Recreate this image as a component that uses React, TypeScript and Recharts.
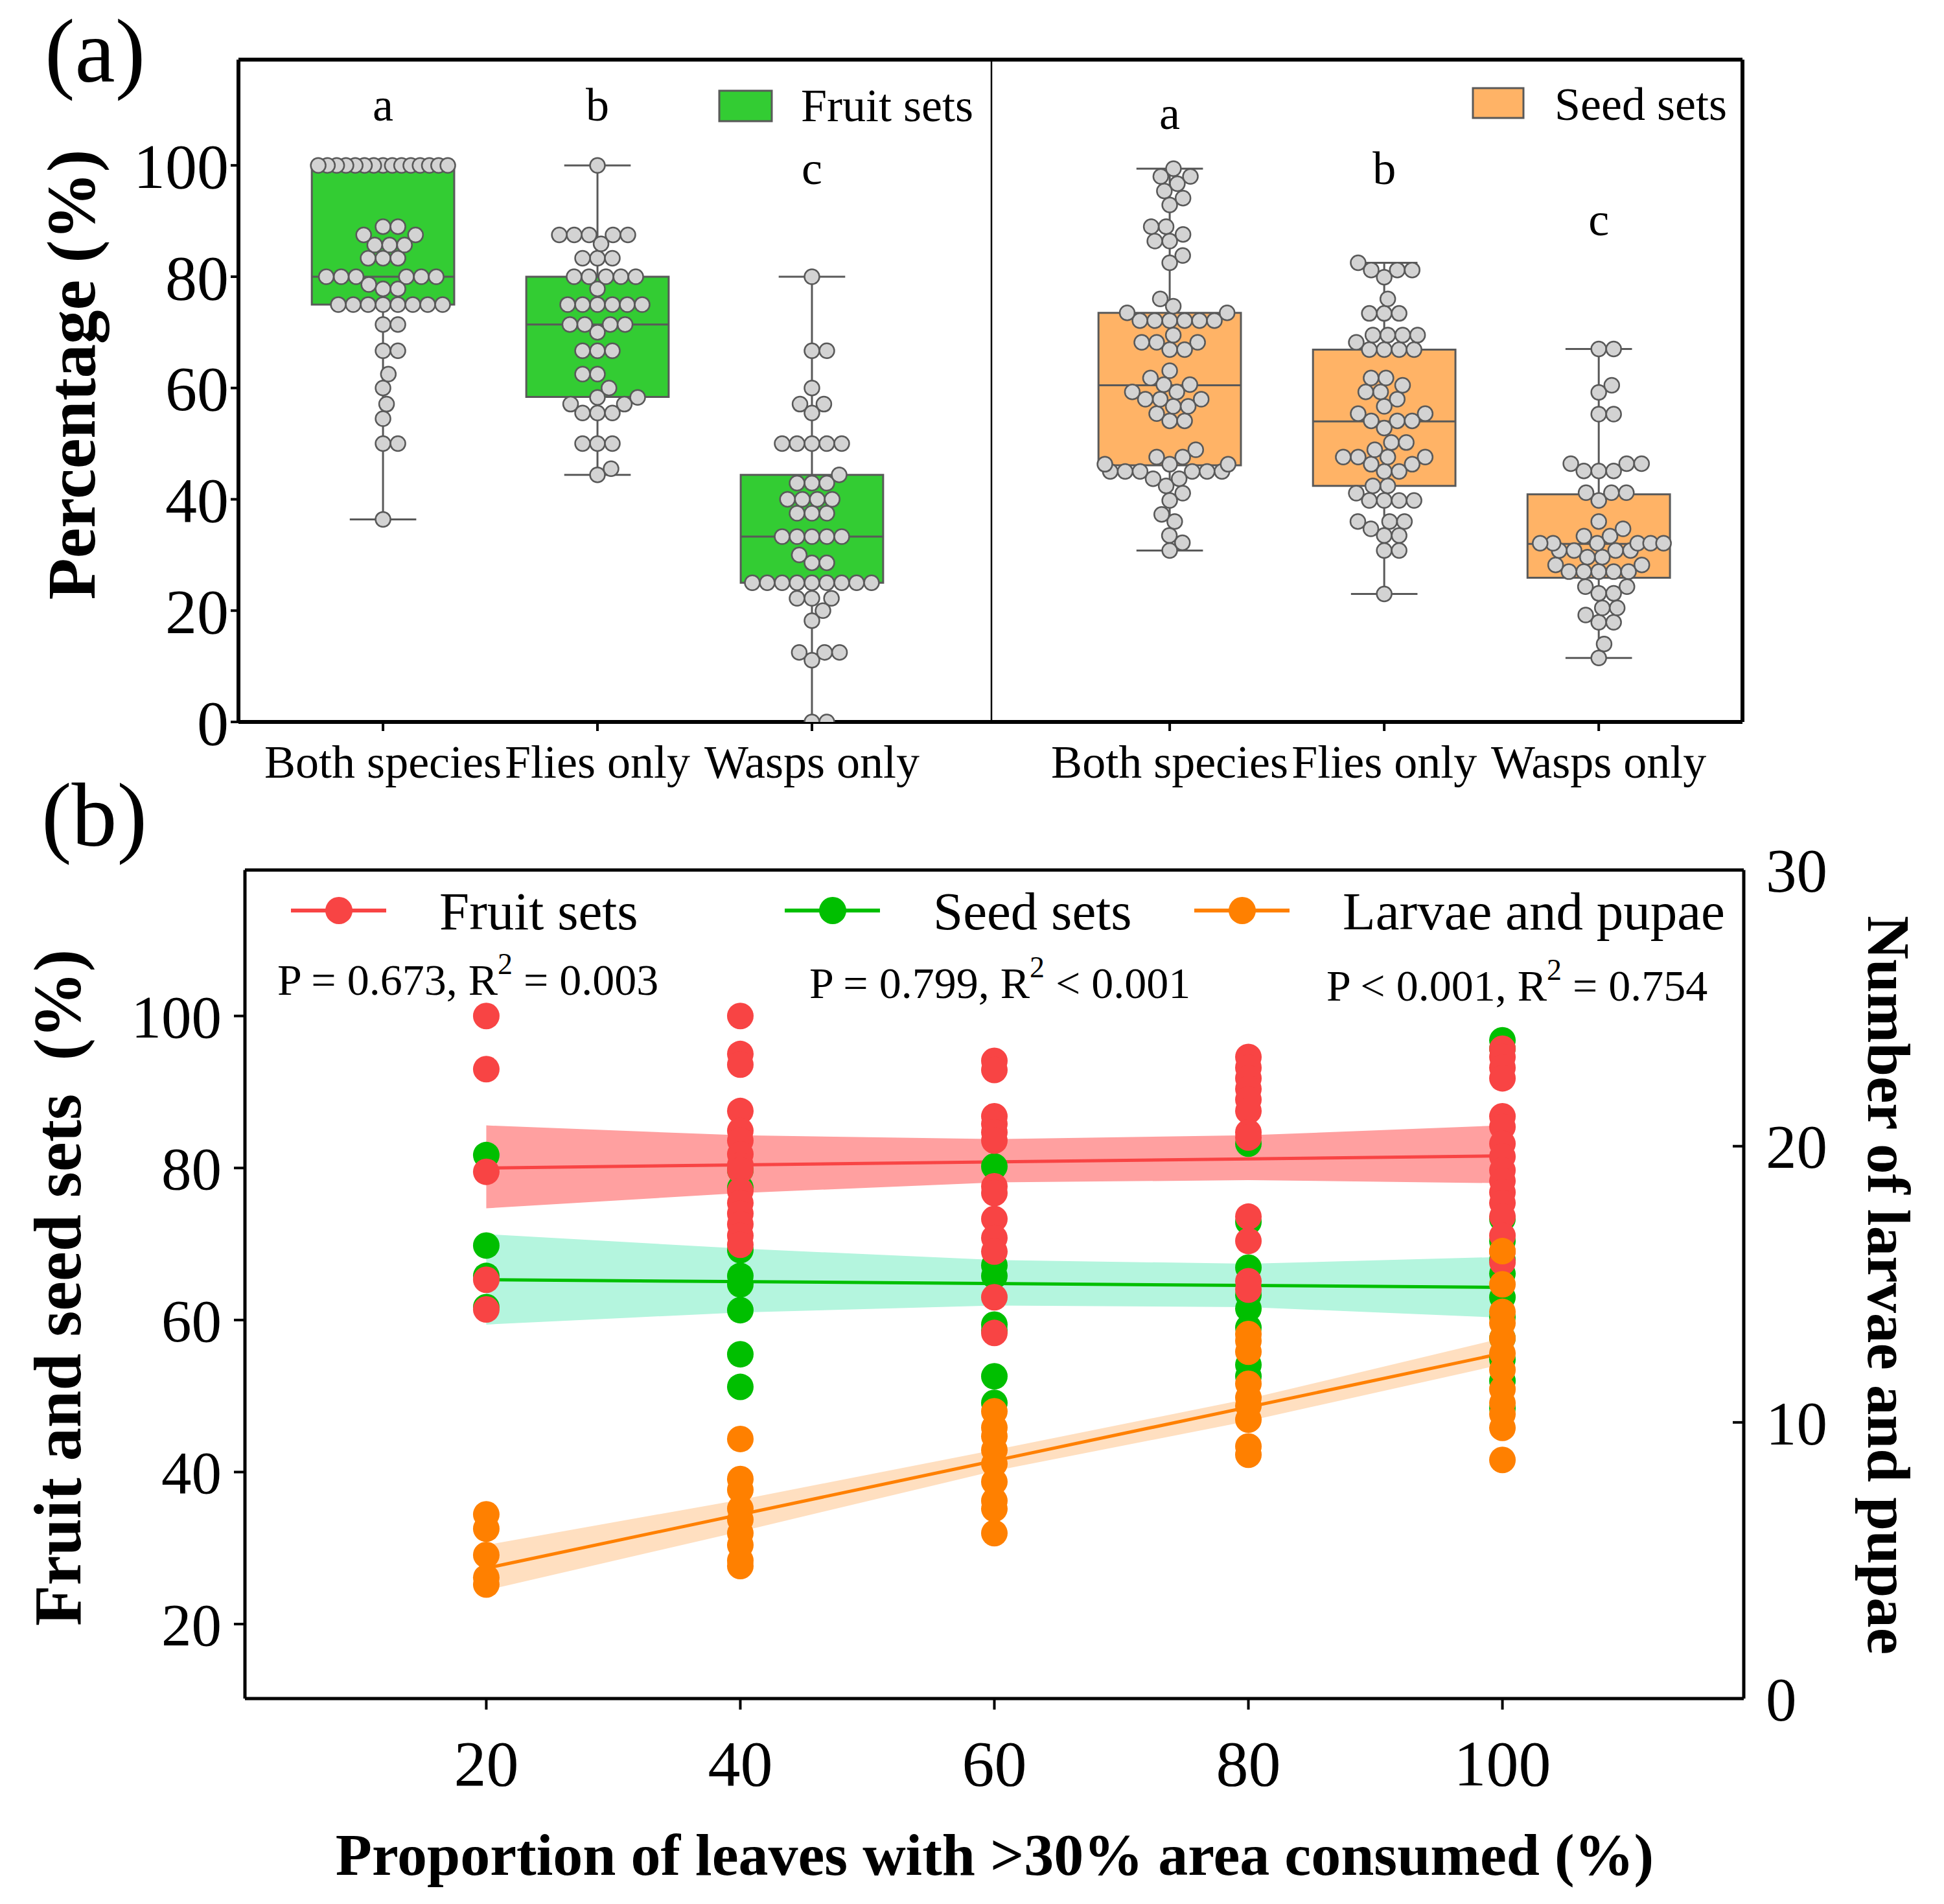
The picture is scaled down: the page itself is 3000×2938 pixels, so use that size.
import React from "react"
import {
  Area,
  ComposedChart,
  Line,
  ReferenceArea,
  ReferenceLine,
  Scatter,
  XAxis,
  YAxis,
} from "recharts"

document.body.style.margin = "0"

const FONT = "'Liberation Serif', 'Times New Roman', serif"

// ---------- panel (a): box plots ----------
const groups = ["Both species", "Flies only", "Wasps only"]

const fruitBoth = [
  100, 100, 100, 100, 100, 100, 100, 100, 100, 100, 100, 100, 100, 100, 100,
  89, 89, 87.5, 87.5, 85.7, 85.7, 85.7, 83.3, 83.3, 83.3,
  80, 80, 80, 80, 80, 80, 78.6, 77.8, 77.8,
  75, 75, 75, 75, 75, 75, 75, 75, 71.4, 71.4, 66.7, 66.7,
  62.5, 60, 57.1, 54.5, 50, 50, 36.4,
]
const fruitFlies = [
  100, 87.5, 87.5, 87.5, 87.5, 87.5, 85.9, 83.3, 83.3, 83.3,
  80, 80, 80, 80, 80, 77.8, 75, 75, 75, 75, 75, 75,
  71.4, 71.4, 71.4, 71.4, 70, 66.7, 66.7, 66.7, 62.5, 62.5, 60,
  58.3, 58.3, 57.1, 57.1, 55.5, 55.5, 55.5, 50, 50, 50, 45.5, 44.4,
]
const fruitWasps = [
  80, 66.7, 66.7, 60, 57.1, 57.1, 55.5, 50, 50, 50, 50, 50, 44.4,
  42.9, 42.9, 42.9, 40, 40, 40, 40, 37.5, 37.5, 37.5,
  33.3, 33.3, 33.3, 33.3, 33.3, 30, 28.6, 28.6,
  25, 25, 25, 25, 25, 25, 25, 25, 25, 22.2, 22.2, 22.2,
  20, 18.2, 12.5, 12.5, 12.5, 11.1, 0, 0,
]
const fruitLow = [36.4, 44.4, 0]
const fruitQ1 = [75, 58.4, 25]
const fruitMedian = [80, 71.4, 33.3]
const fruitQ3 = [99.4, 80, 44.4]
const fruitHigh = [100, 100, 80]
const fruitLetters = ["a", "b", "c"]
const fruitLetterY = [108, 108, 96.6]

const seedBoth = [
  99.4, 98, 98, 96.7, 95.4, 94.1, 92.9, 89, 89, 87.6, 86.4, 86.4, 83.8, 82.5,
  76, 74.7, 73.5, 73.5, 72.1, 72.1, 72.1, 72.1, 72.1, 72.1, 69.5, 68.2, 68.2, 68.2,
  66.9, 66.9, 63.1, 61.8, 60.6, 60.6, 59.3, 59.3, 58, 58, 58, 56.7, 56.7, 55.4,
  54.1, 54.1, 48.9, 47.6, 47.6, 46.3, 46.3, 46.3, 45, 45, 45, 45, 45, 45,
  43.7, 43.7, 42.4, 41.1, 39.8, 37.3, 36, 33.5, 32.2, 30.8,
]
const seedFlies = [
  82.5, 81.2, 81.2, 81.2, 79.9, 76, 73.4, 73.4, 73.4, 69.5, 69.5, 69.5, 69.5, 68.2,
  66.9, 66.9, 66.9, 66.9, 61.8, 61.8, 60.5, 59.3, 59.3, 58, 56.7, 55.4, 55.4,
  54.1, 54.1, 54.1, 52.8, 50.2, 50.2, 48.9, 47.6, 47.6, 47.6, 47.6, 46.3, 46.3,
  45, 45, 42.4, 42.4, 41.1, 39.8, 39.8, 39.8, 39.8, 36, 36, 36, 34.7, 33.5, 33.5,
  30.8, 30.8, 23,
]
const seedWasps = [
  67, 67, 60.5, 59.2, 55.3, 55.3, 46.4, 46.4, 46.4, 45.1, 45.1, 45.1,
  41.2, 41.2, 41.2, 39.8, 36, 34.7, 33.4, 33.4, 32.1, 32.1, 32.1, 32.1, 32.1, 32.1,
  30.8, 30.8, 30.8, 30.8, 29.6, 29.6, 28.2, 28.2, 27, 27, 27, 27, 27,
  24.3, 24.3, 23.1, 23.1, 20.5, 20.5, 19.2, 17.9, 17.9, 14, 11.5,
]
const seedLow = [30.8, 23, 11.5]
const seedQ1 = [46.1, 42.4, 25.9]
const seedMedian = [60.5, 54, 32]
const seedQ3 = [73.5, 66.9, 40.9]
const seedHigh = [99.4, 82.5, 67]
const seedLetters = ["a", "b", "c"]
const seedLetterY = [106.5, 96.6, 87.5]

// ---------- panel (b): regressions ----------
const leafTicks = [20, 40, 60, 80, 100]

const fruitPts: number[][] = [
  [100, 93, 79.5, 65.3, 61.4],
  [100, 95, 93.6, 87.5, 84.9, 83.6, 81.8, 80.4, 79.7, 77, 75.4, 74, 72.6, 71.1, 69.9],
  [94.1, 92.9, 86.8, 85.8, 84.7, 83.6, 77.6, 76.7, 73.3, 70.8, 69, 63, 58.3],
  [94.6, 93.2, 91.8, 90.4, 89, 87.5, 84.7, 84, 73.6, 70.4, 65.1, 64],
  [95.7, 94.6, 93.2, 91.8, 86.8, 85.4, 83.2, 81.5, 79.7, 78.3, 76.8, 75.4, 73.6, 71.1, 69, 67.6],
]
const seedPts: number[][] = [
  [81.7, 69.8, 65.8, 61.7],
  [79.7, 77.4, 69.2, 65.8, 64.7, 61.3, 55.5, 51.2],
  [80.2, 67.2, 65.8, 59.4, 58.6, 52.6, 49.1],
  [83.2, 72.9, 66.9, 63.3, 61.5, 59, 54.1, 52.6],
  [96.8, 95.7, 73.3, 70.4, 67.9, 66.1, 63, 60.4, 57.6, 54.8, 52, 48.4],
]
const larvaePts: number[][] = [
  [6.67, 6.15, 5.2, 4.38, 4.13],
  [9.4, 7.95, 7.56, 6.88, 6.48, 5.99, 5.56, 5.0, 4.8],
  [10.4, 9.81, 9.5, 9.0, 8.5, 7.85, 7.16, 6.87, 5.99],
  [13.2, 12.95, 12.56, 11.4, 10.9, 10.6, 10.1, 9.13, 8.83],
  [16.2, 15.0, 14.0, 13.6, 13.05, 12.5, 11.9, 11.2, 10.7, 10.3, 9.8, 8.64],
]

const fitX = [20, 100]
const fruitFit = [80, 81.6]
const seedFit = [65.3, 64.3]
const larvaeFit = [4.72, 12.5]

const bandX = [20, 40, 60, 80, 100]
const fruitBandLo = [74.7, 76.7, 78.1, 78.4, 78.0]
const fruitBandHi = [85.6, 84.3, 83.8, 84.3, 85.6]
const seedBandLo = [59.4, 61.0, 61.9, 61.7, 60.3]
const seedBandHi = [71.3, 69.4, 67.9, 67.4, 68.3]
const larvaeBandLo = [3.92, 6.05, 8.24, 10.05, 12.1]
const larvaeBandHi = [5.56, 7.2, 9.0, 10.85, 13.05]

const RED = "#F84444"
const GREEN = "#00BF00"
const ORANGE = "#FF8000"

// ---------- helpers ----------
const PANEL_A_H = 1250
const A_TOP = 92
const A_BOTTOM = 1114
const Y_MAX_A = 119
const PX_PER_UNIT_X = 331
const PX_PER_UNIT_Y = (A_BOTTOM - A_TOP) / Y_MAX_A

// simple greedy beeswarm, offsets in pixels, then back to axis units
function swarm(values: number[], center: number) {
  const d = 23
  const cap = 100
  const order = values.map((_, i) => i).sort((a, b) => values[a] - values[b])
  const placed: { x: number; y: number; v: number }[] = []
  for (const i of order) {
    const y = values[i] * PX_PER_UNIT_Y
    const near = placed.filter((q) => Math.abs(q.y - y) < d)
    const cands = [0]
    near.forEach((q) => {
      const dx = Math.sqrt(d * d - (q.y - y) ** 2)
      cands.push(q.x + dx, q.x - dx)
    })
    cands.sort((a, b) => Math.abs(a) - Math.abs(b) || b - a)
    const x = cands.find((c) => near.every((q) => (q.x - c) ** 2 + (q.y - y) ** 2 >= d * d - 0.01)) ?? 0
    placed.push({ x, y, v: values[i] })
  }
  const rows = new Map<number, typeof placed>()
  placed.forEach((p) => {
    const r = rows.get(p.v) || []
    r.push(p)
    rows.set(p.v, r)
  })
  rows.forEach((r) => {
    const m = Math.max(...r.map((p) => Math.abs(p.x)))
    if (m > cap) r.forEach((p) => (p.x *= cap / m))
  })
  return placed.map((p) => ({ x: center + Math.max(-cap, Math.min(cap, p.x)) / PX_PER_UNIT_X, y: p.v }))
}

const dotA = (p: any) => (
  <circle cx={p.cx} cy={p.cy} r={11.5} fill="#D3D3D3" stroke="#595959" strokeWidth={2.5} />
)
const letterShape = (p: any) => (
  <text x={p.cx} y={p.cy} textAnchor="middle" fontSize={72} fontFamily={FONT} fill="#000">
    {p.payload.t}
  </text>
)

type BoxProps = {
  left: number
  width: number
  margin: { top: number; right: number; bottom: number; left: number }
  domain: [number, number]
  series: number[][]
  low: number[]
  q1: number[]
  median: number[]
  q3: number[]
  high: number[]
  letters: string[]
  letterY: number[]
  fill: string
  leftAxis: boolean
  rightStroke: number
}

function BoxPanel(props: BoxProps) {
  const points = props.series.flatMap((vals, i) => swarm(vals, i + 1))
  const letterData = props.letters.map((t, i) => ({ x: i + 1, y: props.letterY[i], t }))
  const hw = 0.332
  const cw = 0.155
  const st = { stroke: "#595959", strokeWidth: 3 }
  return (
    <div style={{ position: "absolute", left: props.left, top: 0 }}>
      <ComposedChart width={props.width} height={PANEL_A_H} margin={props.margin}>
        <XAxis
          type="number"
          dataKey="x"
          domain={props.domain}
          allowDataOverflow
          ticks={[1, 2, 3]}
          interval={0}
          tickFormatter={(v) => groups[v - 1]}
          tick={{ fontSize: 72, fill: "#000", fontFamily: FONT }}
          tickSize={14}
          tickMargin={21}
          tickLine={{ stroke: "#000", strokeWidth: 4 }}
          axisLine={{ stroke: "#000", strokeWidth: 6 }}
          height={100}
        />
        <YAxis
          type="number"
          domain={[0, Y_MAX_A]}
          allowDataOverflow
          ticks={[0, 20, 40, 60, 80, 100]}
          interval={0}
          hide={!props.leftAxis}
          width={368}
          tick={{ fontSize: 98, fill: "#000", fontFamily: FONT }}
          tickSize={12}
          tickMargin={3}
          tickLine={{ stroke: "#000", strokeWidth: 4 }}
          axisLine={{ stroke: "#000", strokeWidth: 6 }}
        />
        {/* top and right edges of the frame */}
        <ReferenceLine y={Y_MAX_A} stroke="#000" strokeWidth={6} ifOverflow="visible" />
        <ReferenceLine x={props.domain[1]} stroke="#000" strokeWidth={props.rightStroke} ifOverflow="visible" />
        {props.series.map((_, i) => {
          const c = i + 1
          return (
            <React.Fragment key={i}>
              <ReferenceLine segment={[{ x: c, y: props.low[i] }, { x: c, y: props.q1[i] }]} {...st} />
              <ReferenceLine segment={[{ x: c, y: props.q3[i] }, { x: c, y: props.high[i] }]} {...st} />
              <ReferenceLine segment={[{ x: c - cw, y: props.low[i] }, { x: c + cw, y: props.low[i] }]} {...st} />
              <ReferenceLine segment={[{ x: c - cw, y: props.high[i] }, { x: c + cw, y: props.high[i] }]} {...st} />
              <ReferenceArea
                x1={c - hw}
                x2={c + hw}
                y1={props.q1[i]}
                y2={props.q3[i]}
                fill={props.fill}
                fillOpacity={1}
                {...st}
              />
              <ReferenceLine segment={[{ x: c - hw, y: props.median[i] }, { x: c + hw, y: props.median[i] }]} {...st} />
            </React.Fragment>
          )
        })}
        <Scatter data={points} dataKey="y" shape={dotA} isAnimationActive={false} />
        <Scatter data={letterData} dataKey="y" shape={letterShape} isAnimationActive={false} />
      </ComposedChart>
    </div>
  )
}

const ptsOf = (rows: number[][]) => rows.flatMap((vals, i) => vals.map((y) => ({ x: leafTicks[i], y })))
const fitOf = (ys: number[]) => ys.map((y, i) => ({ x: fitX[i], y }))
const bandOf = (lo: number[], hi: number[]) => bandX.map((x, i) => ({ x, band: [lo[i], hi[i]] }))

const dotB = (color: string) => (p: any) => <circle cx={p.cx} cy={p.cy} r={20.5} fill={color} />

const RightTick = (p: any) => (
  <g>
    <line x1={p.x - 34} x2={p.x - 51} y1={p.y} y2={p.y} stroke="#000" strokeWidth={4} />
    <text x={p.x} y={p.y} dy="0.355em" textAnchor="start" fontSize={95} fontFamily={FONT} fill="#000">
      {p.payload.value}
    </text>
  </g>
)

function RegressionPanel() {
  const frame = { stroke: "#000", strokeWidth: 5 }
  return (
    <div style={{ position: "absolute", left: 0, top: 1250 }}>
      <ComposedChart width={3000} height={1688} margin={{ top: 92.5, right: 109, bottom: 167, left: 0 }}>
        <XAxis
          type="number"
          dataKey="x"
          domain={[1, 119]}
          allowDataOverflow
          ticks={leafTicks}
          interval={0}
          tick={{ fontSize: 100, fill: "#000", fontFamily: FONT }}
          tickSize={17}
          tickMargin={46}
          tickLine={{ stroke: "#000", strokeWidth: 4 }}
          axisLine={frame}
          height={150}
        />
        <YAxis
          type="number"
          domain={[10.2, 119.2]}
          allowDataOverflow
          ticks={[20, 40, 60, 80, 100]}
          interval={0}
          width={378}
          tick={{ fontSize: 93, fill: "#000", fontFamily: FONT }}
          tickSize={17}
          tickMargin={19}
          tickLine={{ stroke: "#000", strokeWidth: 4 }}
          axisLine={frame}
        />
        <YAxis
          yAxisId="right"
          orientation="right"
          type="number"
          domain={[0, 30]}
          allowDataOverflow
          ticks={[0, 10, 20, 30]}
          interval={0}
          width={200}
          tick={RightTick}
          tickSize={0}
          tickMargin={34}
          tickLine={false}
          axisLine={frame}
        />
        <ReferenceLine y={119.2} stroke="#000" strokeWidth={5} ifOverflow="visible" />
        <Area data={bandOf(fruitBandLo, fruitBandHi)} dataKey="band" type="linear" stroke="none" fill="#FFA0A0" fillOpacity={1} isAnimationActive={false} activeDot={false} />
        <Area data={bandOf(seedBandLo, seedBandHi)} dataKey="band" type="linear" stroke="none" fill="#B4F5DE" fillOpacity={1} isAnimationActive={false} activeDot={false} />
        <Area data={bandOf(larvaeBandLo, larvaeBandHi)} dataKey="band" yAxisId="right" type="linear" stroke="none" fill="#FFDFC0" fillOpacity={1} isAnimationActive={false} activeDot={false} />
        <Line data={fitOf(fruitFit)} dataKey="y" type="linear" stroke={RED} strokeWidth={5} dot={false} isAnimationActive={false} />
        <Line data={fitOf(seedFit)} dataKey="y" type="linear" stroke={GREEN} strokeWidth={5} dot={false} isAnimationActive={false} />
        <Line data={fitOf(larvaeFit)} dataKey="y" yAxisId="right" type="linear" stroke={ORANGE} strokeWidth={5} dot={false} isAnimationActive={false} />
        <Scatter data={ptsOf(seedPts)} dataKey="y" shape={dotB(GREEN)} isAnimationActive={false} />
        <Scatter data={ptsOf(fruitPts)} dataKey="y" shape={dotB(RED)} isAnimationActive={false} />
        <Scatter data={ptsOf(larvaePts)} dataKey="y" yAxisId="right" shape={dotB(ORANGE)} isAnimationActive={false} />
      </ComposedChart>
    </div>
  )
}

function Stat({ x, y, pre, post }: { x: number; y: number; pre: string; post: string }) {
  return (
    <text x={x} y={y} fontSize={68} fontFamily={FONT} fill="#000" style={{ whiteSpace: "pre" }}>
      {pre}
      <tspan dy={-32} fontSize={46}>2</tspan>
      <tspan dy={32}>{post}</tspan>
    </text>
  )
}

function LegendB({ x, color, label }: { x: number; color: string; label: string }) {
  return (
    <g>
      <line x1={x} x2={x + 147} y1={1405} y2={1405} stroke={color} strokeWidth={6} />
      <circle cx={x + 74} cy={1405} r={21} fill={color} />
      <text x={x + 229} y={1434} fontSize={83} fontFamily={FONT} fill="#000">{label}</text>
    </g>
  )
}

function Overlay() {
  const bold = { fontFamily: FONT, fontWeight: 700, fill: "#000" }
  return (
    <svg width={3000} height={2938} style={{ position: "absolute", left: 0, top: 0, pointerEvents: "none" }}>
      <text x={69} y={126} fontSize={140} fontFamily={FONT}>(a)</text>
      <text x={64} y={1305} fontSize={140} fontFamily={FONT}>(b)</text>
      <text {...bold} x={146} y={578} fontSize={105} textAnchor="middle" transform="rotate(-90 146 578)">Percentage (%)</text>

      <rect x={1110} y={140} width={81} height={47} fill="#33CC33" stroke="#595959" strokeWidth={3} />
      <text x={1236} y={187} fontSize={72} fontFamily={FONT}>Fruit sets</text>
      <rect x={2273} y={136} width={78} height={46} fill="#FFB366" stroke="#595959" strokeWidth={3} />
      <text x={2399} y={185} fontSize={72} fontFamily={FONT}>Seed sets</text>

      <LegendB x={449} color={RED} label="Fruit sets" />
      <LegendB x={1211} color={GREEN} label="Seed sets" />
      <LegendB x={1843} color={ORANGE} label="Larvae and pupae" />
      <Stat x={428} y={1535} pre="P = 0.673, R" post=" = 0.003" />
      <Stat x={1249} y={1540} pre="P = 0.799, R" post=" < 0.001" />
      <Stat x={2047} y={1544} pre="P < 0.001, R" post=" = 0.754" />

      <text {...bold} x={124} y={1987} fontSize={103} textAnchor="middle" transform="rotate(-90 124 1987)" style={{ whiteSpace: "pre" }}>
        Fruit and seed sets  (%)
      </text>
      <text {...bold} x={2883} y={1983} fontSize={93} textAnchor="middle" transform="rotate(90 2883 1983)">
        Number of larvae and pupae
      </text>
      <text {...bold} x={1535} y={2893} fontSize={92} textAnchor="middle">
        Proportion of leaves with &gt;30% area consumed (%)
      </text>
    </svg>
  )
}

export default function App() {
  return (
    <div style={{ position: "relative", width: 3000, height: 2938, background: "#fff", fontFamily: FONT }}>
      <BoxPanel
        left={0}
        width={1540}
        margin={{ top: A_TOP, right: 10, bottom: PANEL_A_H - A_BOTTOM - 100, left: 0 }}
        domain={[0.326, 3.837]}
        series={[fruitBoth, fruitFlies, fruitWasps]}
        low={fruitLow}
        q1={fruitQ1}
        median={fruitMedian}
        q3={fruitQ3}
        high={fruitHigh}
        letters={fruitLetters}
        letterY={fruitLetterY}
        fill="#33CC33"
        leftAxis
        rightStroke={2.5}
      />
      <BoxPanel
        left={1500}
        width={1300}
        margin={{ top: A_TOP, right: 111, bottom: PANEL_A_H - A_BOTTOM - 100, left: 29 }}
        domain={[0.166, 3.67]}
        series={[seedBoth, seedFlies, seedWasps]}
        low={seedLow}
        q1={seedQ1}
        median={seedMedian}
        q3={seedQ3}
        high={seedHigh}
        letters={seedLetters}
        letterY={seedLetterY}
        fill="#FFB366"
        leftAxis={false}
        rightStroke={6}
      />
      <RegressionPanel />
      <Overlay />
    </div>
  )
}
